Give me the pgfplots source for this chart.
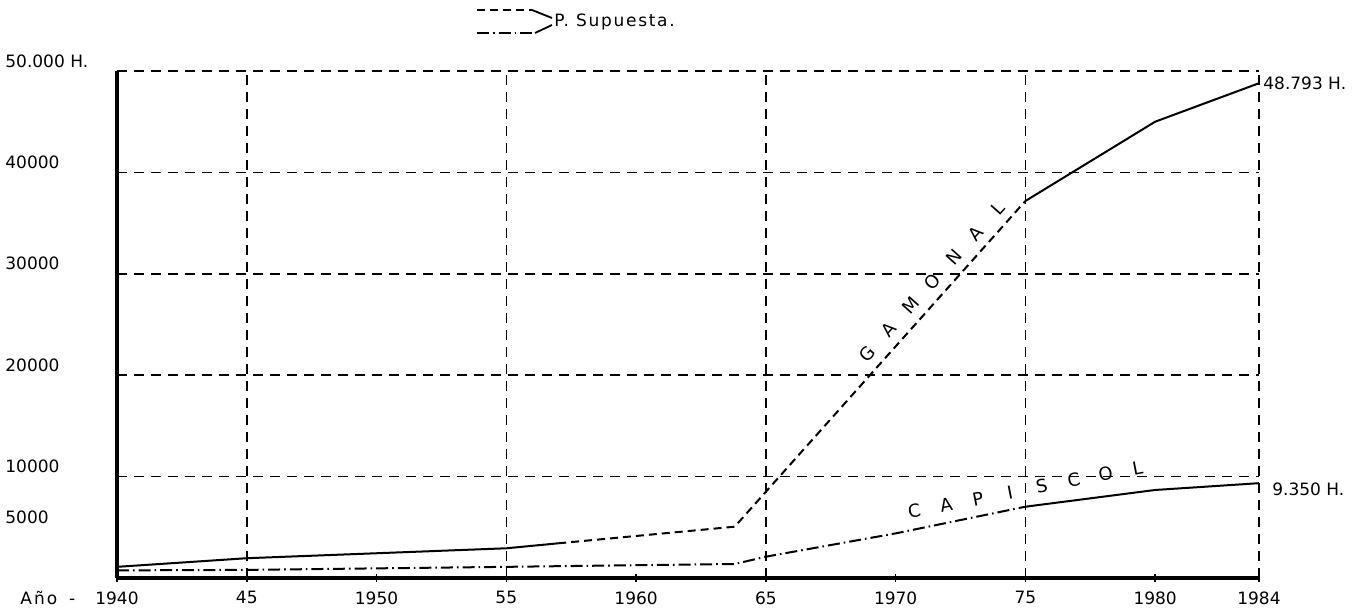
\documentclass[border=0pt]{standalone}
\usepackage{fontspec}
\setmainfont{DejaVu Sans}
\usepackage{pgfplots}
\pgfplotsset{compat=1.18}
\usetikzlibrary{calc}
\newcommand\lt[1]{\makebox[16.25pt]{#1}}
\begin{document}
\fontsize{8.5}{10}\selectfont
\begin{tikzpicture}
\begin{axis}[name=ax, scale only axis, width=571pt, height=253.5pt,
  xmin=1940, xmax=1984, ymin=0, ymax=50000,
  clip=false, scaled y ticks=false, scaled x ticks=false,
  axis x line=bottom, axis y line=left,
  axis line style={-, black},
  x axis line style={line width=2pt},
  y axis line style={line width=1.75pt},
  xtick={1940,1945,1950,1955,1960,1965,1970,1975,1980,1984},
  xticklabels={\llap{\addfontfeature{LetterSpace=12}Año\hspace{6pt}-\hspace{10pt}}1940,45,1950,55,1960,65,1970,75,1980,1984},
  ytick={5000,10000,20000,30000,40000,50000},
  yticklabels={5000,10000,20000,30000,40000,50.000 H.},
  minor xtick={1945,1955,1965,1975,1984},
  minor ytick={10000,20000,30000,40000,50000},
  xminorgrids=true, yminorgrids=true,
  minor grid style={black, line width=0.75pt, dash pattern=on 5pt off 3.5pt},
  minor tick length=0pt,
  major tick length=4pt, tick align=center,
  xtick style={black, line width=0.8pt},
  ytick style={draw=none},
  ticklabel style={font=\fontsize{8.5}{10}\selectfont},
  xticklabel style={inner sep=0pt, anchor=north, yshift=-4.5pt},
  yticklabel style={anchor=west, inner sep=0pt, xshift=-54pt, yshift=5pt},
]
% Gamonal
\addplot[black, line width=1pt] coordinates {(1940,1100)(1945,1950)(1955,2930)(1957,3420)};
\addplot[black, line width=1pt, dash pattern=on 4pt off 2.5pt] coordinates {(1957,3420)(1963.8,5060)(1975,37180)};
\addplot[black, line width=1pt] coordinates {(1975,37180)(1980,45000)(1984,48793)};
% Capiscol
\addplot[black, line width=1pt, dash pattern=on 6pt off 2pt on 0.8pt off 2pt] coordinates {(1940,750)(1945,800)(1955,1100)(1963.8,1380)(1965,2100)(1970,4400)(1975,7030)};
\addplot[black, line width=1pt] coordinates {(1975,7030)(1980,8680)(1984,9350)};
% labels
\node[anchor=west, inner sep=0pt, xshift=2pt] at (axis cs:1984,48793) {48.793 H.};
\node[anchor=west, inner sep=0pt, xshift=6.5pt, yshift=-3pt] at (axis cs:1984,9350) {9.350 H.};
\node[rotate=48.2, inner sep=0pt, font=\fontsize{9}{10}\selectfont] at (axis cs:1971.42,29240) {\lt{G}\lt{A}\lt{M}\lt{O}\lt{N}\lt{A}\lt{L}};
\node[rotate=11, inner sep=0pt, font=\fontsize{9}{10}\selectfont] at (axis cs:1975.02,8730) {\lt{C}\lt{A}\lt{P}\lt{I}\lt{S}\lt{C}\lt{O}\lt{L}};
\end{axis}
\begin{scope}[shift={($(ax.south west)+(-58.5pt,289pt)$)}, x=0.5pt, y=-0.5pt]
\draw[line width=0.9pt, dash pattern=on 4pt off 2.5pt] (477,10) -- (532,10);
\draw[line width=0.9pt] (532,10) -- (552,18);
\draw[line width=0.9pt, dash pattern=on 6pt off 2pt on 0.8pt off 2pt] (477,33) -- (535,33);
\draw[line width=0.9pt] (535,33) -- (552,25);
\node[anchor=west, inner sep=0pt] at (554,22) {\addfontfeature{LetterSpace=10}P. Supuesta.};
\end{scope}
\pgfresetboundingbox
\path (ax.south west) ++(-58.5pt,-18pt) rectangle ++(680.5pt,307pt);
\end{tikzpicture}
\end{document}
